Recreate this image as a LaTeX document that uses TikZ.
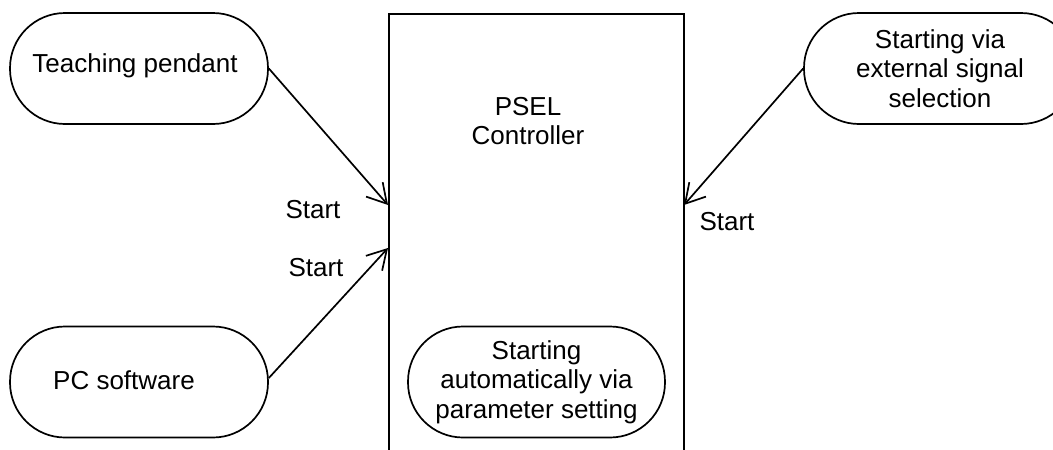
\documentclass[tikz,border=0pt]{standalone}
\usepackage{fontspec}
\setmainfont{Liberation Sans}
\usetikzlibrary{arrows.meta}
\begin{document}
\begin{tikzpicture}[x=1pt,y=-1pt,
  every node/.style={font=\fontsize{26}{29.5}\selectfont},
  pill/.style={draw, line width=1.7pt, rounded corners=55pt, minimum width=258pt, minimum height=111pt, align=center, inner sep=0pt},
  lbl/.style={inner sep=0pt},
  conn/.style={line width=1.7pt, -{Straight Barb[length=19pt,width=22pt]}}]
\useasboundingbox (0,0) rectangle (1053,450);
\node[draw, line width=1.7pt, minimum width=295pt, minimum height=470pt, anchor=north west, inner sep=0pt] (ctrl) at (388,13) {};
\node[lbl, align=center] (ctrltxt) at (528,121) {PSEL\\Controller};
\node[pill] (tp) at (139,68.5) {};
\node[lbl] (tptxt) at (135,66) {Teaching pendant};
\node[pill] (pc) at (139,382) {};
\node[lbl] (pctxt) at (124,380) {PC software};
\node[pill, minimum width=272pt] (ext) at (940,68.5) {Starting via\\external signal\\selection};
\node[pill, minimum width=257pt] (par) at (536.5,382) {Starting\\automatically via\\parameter setting};
\coordinate (a1) at (388,205);
\coordinate (a2) at (388,248);
\coordinate (a3) at (684,205);
\draw[conn] (tp.east) -- (a1);
\draw[conn] ([yshift=4pt]pc.east) -- (a2);
\draw[conn] (ext.west) -- (a3);
\node[lbl] (s1) at (313,210) {Start};
\node[lbl] (s2) at (316,268) {Start};
\node[lbl] (s3) at (727,222) {Start};
\end{tikzpicture}
\end{document}
